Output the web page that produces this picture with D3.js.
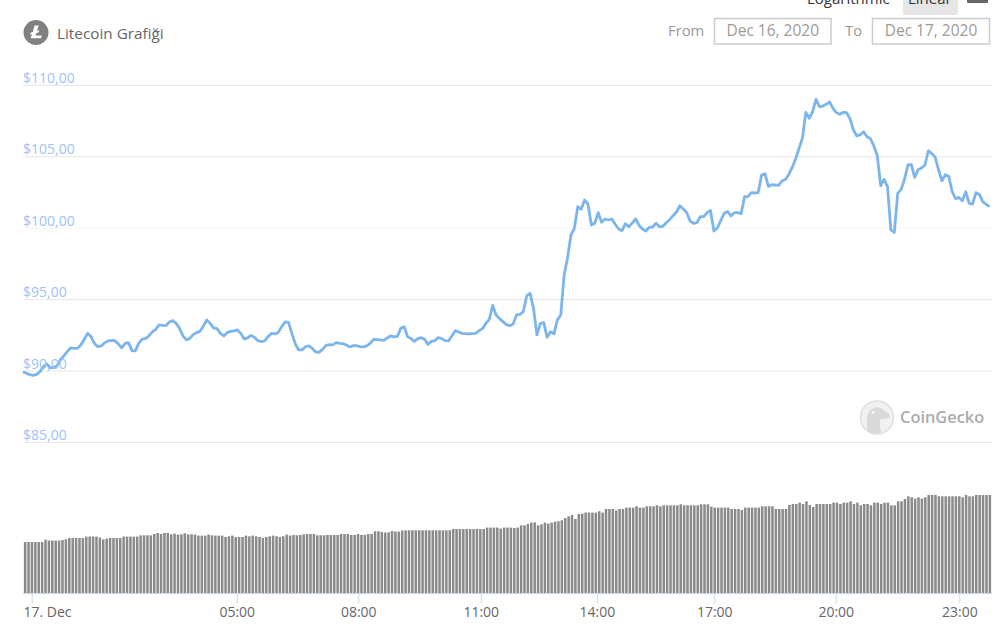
<!DOCTYPE html>
<html>
<head>
<meta charset="utf-8">
<script src="https://cdn.jsdelivr.net/npm/d3@7"></script>
<style>
  body { margin: 0; background: #fff; }
  svg { display: block; }
  text { font-family: "Open Sans", sans-serif; }
</style>
</head>
<body>
<div id="my_dataviz"></div>
<script>
// price every 5 minutes
const prices = [
  89.92,89.80,89.71,89.66,89.73,89.92,90.27,90.46,90.18,90.22,90.32,90.78,91.02,91.32,91.58,91.55,91.55,91.79,92.19,92.60,
  92.37,91.90,91.67,91.72,91.95,92.07,92.11,92.09,91.86,91.58,91.90,91.95,91.39,91.37,91.90,92.20,92.23,92.42,92.70,92.88,
  93.19,93.16,93.14,93.40,93.49,93.30,92.95,92.42,92.14,92.25,92.51,92.65,92.74,93.12,93.54,93.30,92.98,92.93,92.60,92.42,
  92.65,92.74,92.77,92.84,92.60,92.20,92.28,92.46,92.32,92.09,92.02,92.07,92.37,92.60,92.56,92.67,93.07,93.40,93.37,92.60,
  91.86,91.44,91.44,91.67,91.72,91.55,91.30,91.27,91.48,91.74,91.81,91.79,91.95,91.90,91.88,91.79,91.65,91.74,91.74,91.67,
  91.65,91.72,91.90,92.18,92.16,92.14,92.11,92.28,92.42,92.35,92.39,92.95,93.07,92.37,92.23,92.04,92.23,92.30,92.18,91.83,
  92.04,92.09,92.30,92.23,92.09,92.07,92.42,92.79,92.70,92.60,92.58,92.56,92.58,92.60,92.79,92.93,93.30,93.58,94.56,93.89,
  93.63,93.42,93.21,93.14,93.26,93.89,93.93,94.12,95.24,95.40,94.35,92.49,93.28,93.35,92.32,92.72,92.56,93.54,93.89,96.69,
  97.90,99.49,99.96,101.47,101.29,101.94,101.66,100.19,100.31,101.05,100.38,100.61,100.54,100.61,100.24,99.91,99.79,100.28,100.07,100.33,
  100.61,100.17,99.91,99.77,100.03,100.05,100.31,100.07,100.10,100.35,100.56,100.84,101.10,101.54,101.31,101.07,100.47,100.30,100.35,100.77,
  100.77,101.05,101.21,99.77,99.98,100.49,101.00,101.14,100.82,101.05,101.05,100.98,102.17,102.17,102.45,102.43,102.45,103.69,103.78,102.89,
  103.01,102.99,102.96,103.27,103.38,103.73,104.22,104.81,105.55,106.26,108.08,107.66,108.12,108.99,108.47,108.52,108.64,108.80,108.36,108.05,
  107.94,108.08,108.05,107.63,106.84,106.42,106.51,106.72,106.37,106.23,105.72,105.04,102.94,103.38,102.87,99.84,99.67,102.40,102.68,103.38,
  104.39,104.41,103.52,104.08,104.18,104.39,105.39,105.20,104.95,104.04,103.29,103.71,103.60,102.52,102.03,102.12,101.89,102.52,101.70,101.66,
  102.45,102.33,101.82,101.63,101.47
];

// traded volume in billion dollars, same points
const volumes = [
  5.13,5.13,5.13,5.13,5.13,5.13,5.37,5.27,5.27,5.27,5.27,5.33,5.40,5.53,5.53,5.53,5.53,5.53,5.67,5.67,
  5.67,5.67,5.57,5.40,5.47,5.53,5.53,5.53,5.53,5.67,5.67,5.67,5.67,5.67,5.80,5.80,5.80,5.80,5.93,6.03,
  5.93,6.03,6.03,5.90,5.97,5.87,5.90,6.00,5.90,5.90,5.87,5.77,5.77,5.77,5.87,5.80,5.77,5.77,5.77,5.63,
  5.70,5.77,5.63,5.63,5.63,5.77,5.70,5.77,5.70,5.63,5.53,5.63,5.70,5.77,5.70,5.63,5.70,5.87,5.77,5.83,
  5.80,5.83,5.90,5.93,5.93,5.93,5.80,5.80,5.80,5.83,5.83,5.83,5.83,5.93,5.93,5.93,5.83,5.83,5.93,5.83,
  5.83,5.93,5.93,6.20,6.20,6.13,6.07,6.10,6.23,6.17,6.17,6.27,6.30,6.30,6.30,6.30,6.30,6.30,6.30,6.30,
  6.30,6.30,6.30,6.30,6.30,6.30,6.43,6.43,6.43,6.43,6.43,6.43,6.43,6.43,6.43,6.43,6.57,6.57,6.57,6.57,
  6.47,6.57,6.57,6.57,6.53,6.57,6.80,6.80,6.93,7.07,7.10,6.80,6.90,7.07,6.97,7.07,7.17,7.20,7.30,7.53,
  7.70,7.83,7.43,7.93,7.97,8.07,8.07,8.07,8.07,8.20,8.07,8.43,8.43,8.43,8.30,8.43,8.43,8.57,8.57,8.57,
  8.70,8.57,8.57,8.70,8.70,8.70,8.80,8.70,8.80,8.80,8.80,8.80,8.80,8.90,8.80,8.80,8.80,8.80,8.80,8.90,
  8.90,8.90,8.67,8.57,8.57,8.57,8.57,8.57,8.43,8.43,8.43,8.33,8.57,8.57,8.57,8.57,8.57,8.70,8.70,8.70,
  8.70,8.43,8.43,8.43,8.43,8.83,8.93,8.93,9.07,8.93,9.20,8.83,8.63,8.93,8.93,8.93,8.93,8.93,9.07,9.07,
  8.93,9.07,9.07,9.20,8.93,9.07,8.80,8.93,8.93,8.80,9.07,9.07,8.93,9.07,9.07,8.80,8.80,9.20,9.20,9.43,
  9.70,9.60,9.47,9.60,9.47,9.60,9.83,9.83,9.83,9.70,9.70,9.70,9.70,9.70,9.70,9.70,9.60,9.83,9.70,9.70,
  9.83,9.83,9.83,9.83,9.83
];

const priceTicks = [85, 90, 95, 100, 105, 110];
const timeLabels = ["17. Dec", "05:00", "08:00", "11:00", "14:00", "17:00", "20:00", "23:00"];
const timeIndex = [2.56, 62.8, 98.5, 134.5, 168.6, 203.1, 238.8, 275.1];

const width = 1008, height = 639;

const svg = d3.select("#my_dataviz")
  .append("svg")
    .attr("width", width)
    .attr("height", height);

// scales
const x = d3.scaleLinear().domain([0, prices.length - 1]).range([23, 989.6]);
const y = d3.scaleLinear().domain([85, 110]).range([441.9, 84.9]);
const xBars = d3.scaleBand().domain(d3.range(volumes.length)).range([23, 992]).padding(0.26);
const yBars = d3.scaleLinear().domain([0, 10]).range([593.3, 493.3]);

// grid lines, the 100 line comes out fainter
const grid = svg.append("g")
  .attr("transform", "translate(23,0)")
  .call(d3.axisLeft(y).tickValues(priceTicks).tickSize(-969).tickFormat(""));
grid.select(".domain").remove();
grid.selectAll("line").attr("stroke", d => d === 100 ? "#f4f4f4" : "#e6e6e6");

// volume bars
svg.selectAll("mybar")
  .data(volumes)
  .enter()
  .append("rect")
    .attr("x", (d, i) => xBars(i))
    .attr("y", d => yBars(d))
    .attr("width", xBars.bandwidth())
    .attr("height", d => yBars(0) - yBars(d))
    .attr("fill", "#8a8a8a");

// price line
svg.append("path")
  .datum(prices)
  .attr("fill", "none")
  .attr("stroke", "#7cb5ec")
  .attr("stroke-width", 2.8)
  .attr("stroke-linejoin", "round")
  .attr("d", d3.line().x((d, i) => x(i)).y(d => y(d)));

// price labels sit over the line
const labels = svg.append("g")
  .attr("transform", "translate(23,0)")
  .call(d3.axisRight(y).tickValues(priceTicks).tickSize(0)
    .tickFormat(d => "$" + d + ",00"));
labels.select(".domain").remove();
labels.selectAll("text")
  .attr("x", 0)
  .attr("dy", "-0.17em")
  .style("font-family", '"Open Sans", sans-serif')
  .style("font-size", "14px")
  .attr("fill", "#9dc2f5");

// time axis
const axisX = svg.append("g")
  .attr("transform", "translate(0,593.5)")
  .call(d3.axisBottom(x).tickValues(timeIndex).tickSize(10).tickPadding(4)
    .tickFormat((d, i) => timeLabels[i]));
axisX.select(".domain").attr("d", "M23,0H992").attr("stroke", "#ccd6eb");
axisX.selectAll("line").attr("stroke", "#ccd6eb");
axisX.selectAll("text")
  .style("font-family", '"Open Sans", sans-serif')
  .style("font-size", "14px")
  .attr("fill", "#666");
axisX.select(".tick text").attr("text-anchor", "start").attr("x", -8.7);

// title with coin icon
svg.append("circle").attr("cx", 36).attr("cy", 32.5).attr("r", 12.5).attr("fill", "#808080");
svg.append("path")
  .attr("d", "M34.6,25.5 h4 l-1.6,5.6 l2.4,-0.9 l-0.6,2.1 l-2.5,0.9 l-0.8,2.4 h6.3 l-0.8,2.6 h-10.4 l1.4,-4.3 l-1.9,0.7 l0.5,-1.9 l2.1,-0.8 z")
  .attr("fill", "#fff");
svg.append("text").attr("x", 57).attr("y", 38.5)
  .attr("fill", "#666").style("font-size", "15.3px").text("Litecoin Grafiği");

// scale buttons, cut by the top of the page
svg.append("rect").attr("x", 903).attr("y", -5).attr("width", 55).attr("height", 20)
  .attr("rx", 2).attr("fill", "#e6e6e6");
svg.append("text").attr("x", 807).attr("y", 4).attr("fill", "#333")
  .style("font-size", "15px").text("Logarithmic");
svg.append("text").attr("x", 908).attr("y", 4).attr("fill", "#333")
  .style("font-size", "15px").text("Linear");
svg.append("rect").attr("x", 967).attr("y", -4).attr("width", 21).attr("height", 7)
  .attr("rx", 1).attr("fill", "#666");

// date range inputs
const rangeLabels = ["From", "To"];
const rangeDates = ["Dec 16, 2020", "Dec 17, 2020"];
const rangeLabelX = [668, 845];
const rangeBoxX = [714.5, 872.5];
const rangeBoxW = [116.5, 117];
rangeLabels.forEach((t, i) => {
  svg.append("text").attr("x", rangeLabelX[i]).attr("y", 36)
    .attr("fill", "#999").style("font-size", "14.8px").text(t);
  svg.append("rect").attr("x", rangeBoxX[i]).attr("y", 18.5)
    .attr("width", rangeBoxW[i]).attr("height", 25.5)
    .attr("fill", "#fff").attr("stroke", "#ccc").attr("stroke-width", 1.5);
  svg.append("text").attr("x", rangeBoxX[i] + rangeBoxW[i] / 2).attr("y", 36)
    .attr("text-anchor", "middle").attr("fill", "#a09a94")
    .style("font-size", "15.5px").text(rangeDates[i]);
});

// CoinGecko watermark
const mark = svg.append("g").attr("transform", "translate(877,417.5)");
mark.append("circle").attr("r", 16.5).attr("fill", "#f1f1f1").attr("stroke", "#dedede").attr("stroke-width", 1.5);
mark.append("path")
  .attr("d", "M-9,14 C-11,4 -11,-8 -2,-10 C4,-11 9,-6 13,-2 C13,2 6,1 3,2 C2,7 3,11 4,15 C-1,16 -5,16 -9,14 Z")
  .attr("fill", "#d9d9d9");
mark.append("circle").attr("cx", -4).attr("cy", -5).attr("r", 1.6).attr("fill", "#f4f4f4");
svg.append("text").attr("x", 900).attr("y", 422.5)
  .attr("fill", "#ababab").style("font-size", "16.4px").style("font-weight", 600).text("CoinGecko");
</script>
</body>
</html>
